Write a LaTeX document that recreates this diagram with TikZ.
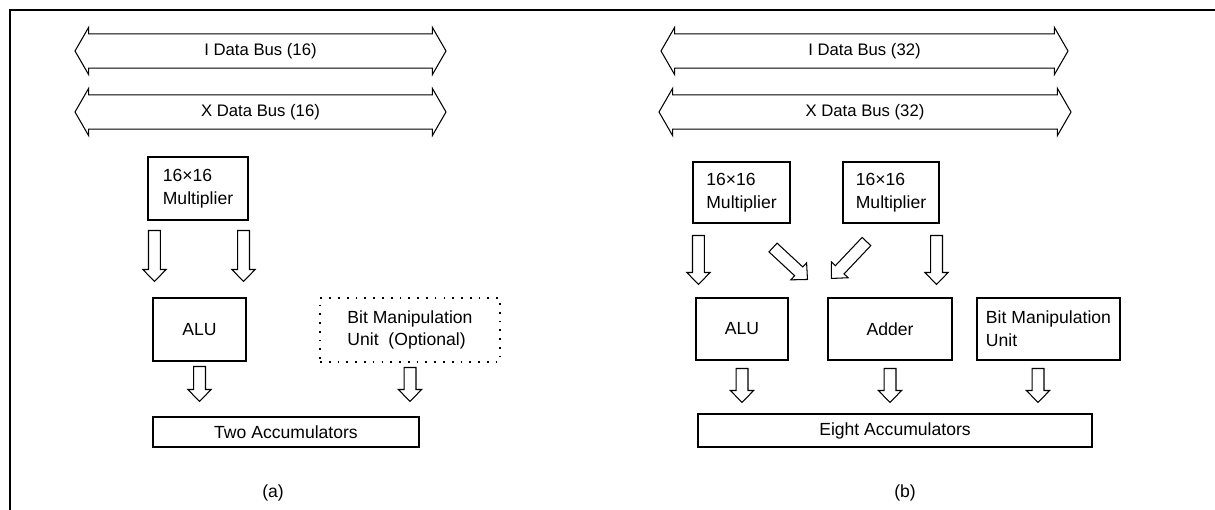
\documentclass[tikz,border=0pt]{standalone}
\usepackage{fontspec}
\setmainfont{Liberation Sans}
\usepackage{tikz}
\usetikzlibrary{calc, shapes.arrows}
\tikzset{
  unitbox/.style={draw, inner sep=2pt, align=left, font=\fontsize{10}{13}\selectfont},
  bus/.style={double arrow, draw, double arrow head extend=0.13cm,
    double arrow tip angle=120, inner xsep=0pt, inner ysep=4.9pt,
    text height=7pt, text depth=2pt, font=\fontsize{9.5}{11}\selectfont},
  hollow/.style={to path={
    let \p1=($(\tikztotarget)-(\tikztostart)$), \n1={atan2(\y1,\x1)}, \n2={veclen(\x1,\y1)} in
    ([shift={(\tikztostart)},rotate=\n1]0pt,3.4pt)
    -- ([shift={(\tikztostart)},rotate=\n1]{\n2-6.8pt},3.4pt)
    -- ([shift={(\tikztostart)},rotate=\n1]{\n2-6.8pt},6.6pt)
    -- (\tikztotarget)
    -- ([shift={(\tikztostart)},rotate=\n1]{\n2-6.8pt},-6.6pt)
    -- ([shift={(\tikztostart)},rotate=\n1]{\n2-6.8pt},-3.4pt)
    -- ([shift={(\tikztostart)},rotate=\n1]0pt,-3.4pt) -- cycle}},
}

\begin{document}
\begin{tikzpicture}[line width=0.6pt, font=\fontsize{10}{12}\selectfont]
\useasboundingbox (0,0) rectangle (24.3,-10.2);
% Frame
\draw (0.2,-10.2) -- (0.2,-0.2) -- (24.3,-0.2);
% (a) 16-bit
\node[bus, minimum height=7.42cm] (ibusL) at (5.21,-1.02) {I Data Bus (16)};
\node[bus, minimum height=7.42cm] (xbusL) at (5.21,-2.24) {X Data Bus (16)};
\node[unitbox, minimum width=2cm, minimum height=1.26cm] (mulL) at (3.96,-3.77) {16×16\\Multiplier};
\node[unitbox, minimum width=1.86cm, minimum height=1.26cm] (aluL) at (3.99,-6.59) {ALU};
\node[unitbox, dash pattern=on 1pt off 4pt, minimum width=3.6cm, minimum height=1.28cm] (bmuL) at (8.2,-6.6) {Bit Manipulation\\Unit\ \ (Optional)};
\node[unitbox, minimum width=5.32cm, minimum height=0.6cm] (accL) at (5.72,-8.64) {Two Accumulators};
\node (capL) at (5.46,-9.86) {(a)};
\draw[hollow] ([shift={(0.14,-0.2)}]mulL.south west) to ([shift={(0.04,0.32)}]aluL.north west);
\draw[hollow] ([shift={(-0.1,-0.2)}]mulL.south east) to ([shift={(-0.06,0.32)}]aluL.north east);
\draw[hollow] ([shift={(0,-0.1)}]aluL.south) to ($(aluL.south |- accL.north)+(0,0.3)$);
\draw[hollow] ([shift={(0,-0.1)}]bmuL.south) to ($(bmuL.south |- accL.north)+(0,0.3)$);
% (b) 32-bit
\node[bus, minimum height=8.14cm] (ibusR) at (17.29,-1.02) {I Data Bus (32)};
\node[bus, minimum height=8.24cm] (xbusR) at (17.3,-2.24) {X Data Bus (32)};
\node[unitbox, minimum width=1.94cm, minimum height=1.22cm] (mulR1) at (14.83,-3.85) {16×16\\Multiplier};
\node[unitbox, minimum width=1.92cm, minimum height=1.22cm] (mulR2) at (17.82,-3.85) {16×16\\Multiplier};
\node[unitbox, minimum width=1.84cm, minimum height=1.24cm] (aluR) at (14.84,-6.58) {ALU};
\node[unitbox, minimum width=2.48cm, minimum height=1.24cm] (addR) at (17.8,-6.58) {Adder};
\node[unitbox, minimum width=2.86cm, minimum height=1.24cm] (bmuR) at (20.97,-6.58) {Bit Manipulation\\Unit};
\node[unitbox, minimum width=7.88cm, minimum height=0.66cm] (accR) at (17.9,-8.61) {Eight Accumulators};
\node (capR) at (18.1,-9.86) {(b)};
\draw[hollow] ([shift={(0.12,-0.24)}]mulR1.south west) to ([shift={(0.06,0.26)}]aluR.north west);
\draw[hollow] ([shift={(-0.35,-0.48)}]mulR1.south east) to ([shift={(-0.4,0.36)}]addR.north west);
\draw[hollow] ([shift={(0.48,-0.36)}]mulR2.south west) to ([shift={(0.08,0.38)}]addR.north west);
\draw[hollow] ([shift={(-0.06,-0.24)}]mulR2.south east) to ([shift={(-0.32,0.26)}]addR.north east);
\draw[hollow] ([shift={(0,-0.16)}]aluR.south) to ($(aluR.south |- accR.north)+(0,0.22)$);
\draw[hollow] ([shift={(0,-0.16)}]addR.south) to ($(addR.south |- accR.north)+(0,0.22)$);
\draw[hollow] ([shift={(-0.21,-0.16)}]bmuR.south) to ($(bmuR.south |- accR.north)+(-0.21,0.22)$);
\end{tikzpicture}
\end{document}
